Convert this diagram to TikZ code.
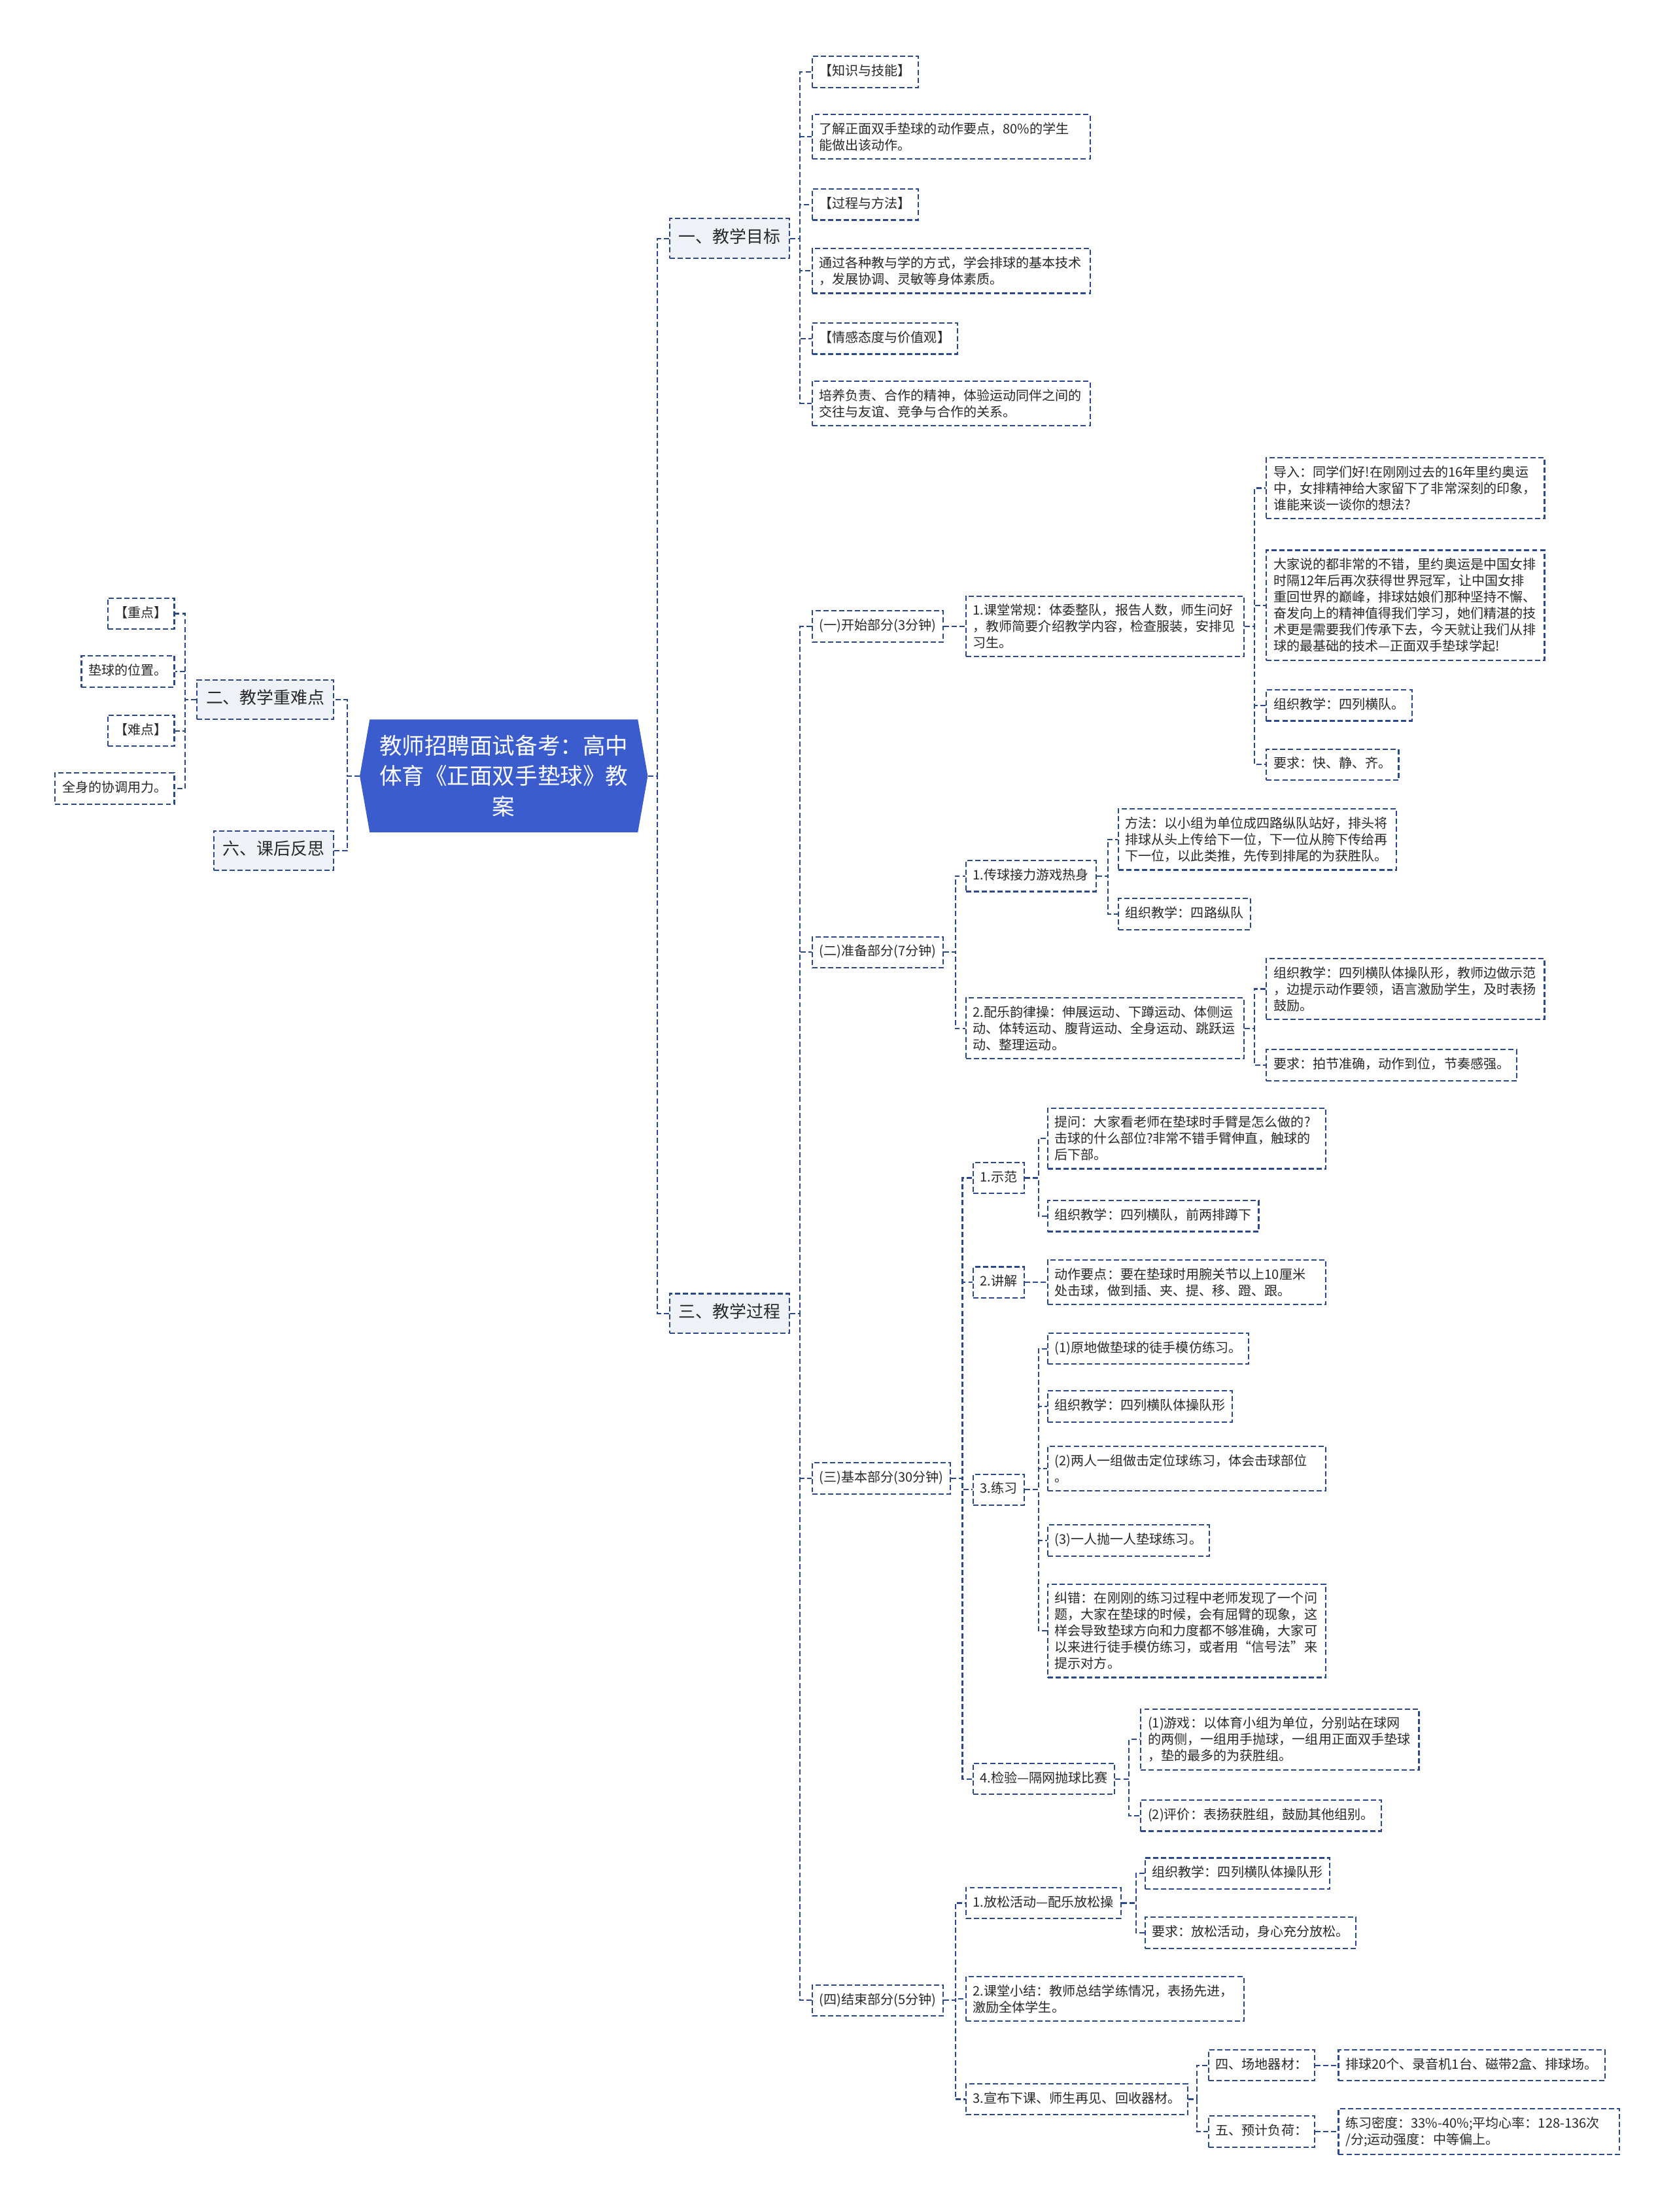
\documentclass[tikz,border=0pt]{standalone}
\usepackage{fontspec}
\newfontfamily\cjk{Noto Sans CJK SC}
\usetikzlibrary{calc,shapes.symbols}
\definecolor{lnc}{RGB}{44,72,140}
\definecolor{rootc}{RGB}{59,92,204}
\definecolor{lvf}{RGB}{238,241,246}
\definecolor{txt}{RGB}{40,40,40}
\tikzset{
  conn/.style={draw=lnc, line width=1pt, dash pattern=on 3.7pt off 1.9pt},
  box/.style={draw=lnc, line width=1pt, dash pattern=on 3.7pt off 1.9pt, fill=white, text=txt,
    font=\cjk\fontsize{9.3}{11.6}\selectfont, inner xsep=5pt, inner ysep=6pt},
  one/.style={box, text height=7.6pt, text depth=2.4pt},
  multi/.style={box, text width=187pt, align=left, inner ysep=5.6pt},
  lvl/.style={draw=lnc, line width=1pt, dash pattern=on 3.7pt off 1.9pt, fill=lvf, text=txt,
    font=\cjk\fontsize{12}{14}\selectfont, inner xsep=6.5pt, inner ysep=8pt, text height=9pt, text depth=3pt},
  rootn/.style={signal, signal to=west and east, signal pointer angle=160, fill=rootc, text=white,
    font=\cjk\fontsize{16}{21.5}\selectfont, align=center, text width=186pt, minimum height=80pt,
    inner xsep=2pt, inner ysep=4pt}
}
\newcommand\rlk[3][7]{\draw[conn] (#2.east) -| ($(#3.west)+(-#1,0)$) -- (#3.west);}
\newcommand\llk[3][7]{\draw[conn] (#2.west) -| ($(#3.east)+(#1,0)$) -- (#3.east);}
\begin{document}
\begin{tikzpicture}[x=1pt,y=-1pt]
\useasboundingbox (0,0) rectangle (1187,1568);
\fill[white] (0,0) rectangle (1187,1568);

% root
\node[rootn] (root) at (357,550) {教师招聘面试备考：高中\\体育《正面双手垫球》教\\案};

% left
\node[lvl, anchor=east] (L2) at (237,496) {二、教学重难点};
\node[lvl, anchor=east] (L6) at (237,603) {六、课后反思};
\node[one, anchor=east] (L2a) at (124,435) {【重点】};
\node[one, anchor=east] (L2b) at (124,476) {垫球的位置。};
\node[one, anchor=east] (L2c) at (124,518) {【难点】};
\node[one, anchor=east] (L2d) at (124,559) {全身的协调用力。};

% right level 1
\node[lvl, anchor=west] (R1) at (474,169) {一、教学目标};
\node[lvl, anchor=west] (R3) at (474,931) {三、教学过程};

% 一、教学目标
\node[one, anchor=west] (R1a) at (575,51) {【知识与技能】};
\node[multi, anchor=west] (R1b) at (575,97) {了解正面双手垫球的动作要点，80\%的学生\\能做出该动作。};
\node[one, anchor=west] (R1c) at (575,145) {【过程与方法】};
\node[multi, anchor=west] (R1d) at (575,192) {通过各种教与学的方式，学会排球的基本技术\\，发展协调、灵敏等身体素质。};
\node[one, anchor=west] (R1e) at (575,240) {【情感态度与价值观】};
\node[multi, anchor=west] (R1f) at (575,286) {培养负责、合作的精神，体验运动同伴之间的\\交往与友谊、竞争与合作的关系。};

% 三、教学过程
\node[one, anchor=west] (P1) at (575,444) {(一)开始部分(3分钟)};
\node[one, anchor=west] (P2) at (575,675) {(二)准备部分(7分钟)};
\node[one, anchor=west] (P3) at (575,1048) {(三)基本部分(30分钟)};
\node[one, anchor=west] (P4) at (575,1418) {(四)结束部分(5分钟)};

% (一)
\node[multi, anchor=west] (P1a) at (684,444) {1.课堂常规：体委整队，报告人数，师生问好\\，教师简要介绍教学内容，检查服装，安排见\\习生。};
\node[multi, anchor=west] (P1a1) at (897,346) {导入：同学们好!在刚刚过去的16年里约奥运\\中，女排精神给大家留下了非常深刻的印象，\\谁能来谈一谈你的想法?};
\node[multi, anchor=west] (P1a2) at (897,429) {大家说的都非常的不错，里约奥运是中国女排\\时隔12年后再次获得世界冠军，让中国女排\\重回世界的巅峰，排球姑娘们那种坚持不懈、\\奋发向上的精神值得我们学习，她们精湛的技\\术更是需要我们传承下去，今天就让我们从排\\球的最基础的技术—正面双手垫球学起!};
\node[one, anchor=west] (P1a3) at (897,500) {组织教学：四列横队。};
\node[one, anchor=west] (P1a4) at (897,542) {要求：快、静、齐。};

% (二)
\node[one, anchor=west] (P2a) at (684,621) {1.传球接力游戏热身};
\node[multi, anchor=west] (P2b) at (684,729) {2.配乐韵律操：伸展运动、下蹲运动、体侧运\\动、体转运动、腹背运动、全身运动、跳跃运\\动、整理运动。};
\node[multi, anchor=west] (P2a1) at (792,595) {方法：以小组为单位成四路纵队站好，排头将\\排球从头上传给下一位，下一位从胯下传给再\\下一位，以此类推，先传到排尾的为获胜队。};
\node[one, anchor=west] (P2a2) at (792,648) {组织教学：四路纵队};
\node[multi, anchor=west] (P2b1) at (897,701) {组织教学：四列横队体操队形，教师边做示范\\，边提示动作要领，语言激励学生，及时表扬\\鼓励。};
\node[one, anchor=west] (P2b2) at (897,755) {要求：拍节准确，动作到位，节奏感强。};

% (三)
\node[one, anchor=west] (P3a) at (689,835) {1.示范};
\node[one, anchor=west] (P3b) at (689,909) {2.讲解};
\node[one, anchor=west] (P3c) at (689,1056) {3.练习};
\node[one, anchor=west] (P3d) at (689,1261) {4.检验—隔网抛球比赛};
\node[multi, anchor=west] (P3a1) at (742,807) {提问：大家看老师在垫球时手臂是怎么做的?\\击球的什么部位?非常不错手臂伸直，触球的\\后下部。};
\node[one, anchor=west] (P3a2) at (742,862) {组织教学：四列横队，前两排蹲下};
\node[multi, anchor=west] (P3b1) at (742,909) {动作要点：要在垫球时用腕关节以上10厘米\\处击球，做到插、夹、提、移、蹬、跟。};
\node[one, anchor=west] (P3c1) at (742,956) {(1)原地做垫球的徒手模仿练习。};
\node[one, anchor=west] (P3c2) at (742,997) {组织教学：四列横队体操队形};
\node[multi, anchor=west] (P3c3) at (742,1041) {(2)两人一组做击定位球练习，体会击球部位\\。};
\node[one, anchor=west] (P3c4) at (742,1092) {(3)一人抛一人垫球练习。};
\node[multi, anchor=west] (P3c5) at (742,1156) {纠错：在刚刚的练习过程中老师发现了一个问\\题，大家在垫球的时候，会有屈臂的现象，这\\样会导致垫球方向和力度都不够准确，大家可\\以来进行徒手模仿练习，或者用“信号法”来\\提示对方。};
\node[multi, anchor=west] (P3d1) at (808,1233) {(1)游戏：以体育小组为单位，分别站在球网\\的两侧，一组用手抛球，一组用正面双手垫球\\，垫的最多的为获胜组。};
\node[one, anchor=west] (P3d2) at (808,1287) {(2)评价：表扬获胜组，鼓励其他组别。};

% (四)
\node[one, anchor=west] (P4a) at (684,1349) {1.放松活动—配乐放松操};
\node[multi, anchor=west] (P4b) at (684,1417) {2.课堂小结：教师总结学练情况，表扬先进，\\激励全体学生。};
\node[one, anchor=west] (P4c) at (684,1488) {3.宣布下课、师生再见、回收器材。};
\node[one, anchor=west] (P4a1) at (811,1328) {组织教学：四列横队体操队形};
\node[one, anchor=west] (P4a2) at (811,1370) {要求：放松活动，身心充分放松。};
\node[one, anchor=west] (P4c1) at (856,1464) {四、场地器材：};
\node[one, anchor=west] (P4c2) at (856,1511) {五、预计负荷：};
\node[one, anchor=west] (P4c1a) at (948,1464) {排球20个、录音机1台、磁带2盒、排球场。};
\node[multi, anchor=west, text width=189pt] (P4c2a) at (948,1511) {练习密度：33\%-40\%;平均心率：128-136次\\/分;运动强度：中等偏上。};

% connectors
\llk[9]{root}{L2} \llk[9]{root}{L6}
\llk{L2}{L2a} \llk{L2}{L2b} \llk{L2}{L2c} \llk{L2}{L2d}
\rlk[8]{root}{R1} \rlk[8]{root}{R3}
\rlk[8]{R1}{R1a} \rlk[8]{R1}{R1b} \rlk[8]{R1}{R1c} \rlk[8]{R1}{R1d} \rlk[8]{R1}{R1e} \rlk[8]{R1}{R1f}
\rlk[8]{R3}{P1} \rlk[8]{R3}{P2} \rlk[8]{R3}{P3} \rlk[8]{R3}{P4}
\rlk{P1}{P1a}
\rlk[8]{P1a}{P1a1} \rlk[8]{P1a}{P1a2} \rlk[8]{P1a}{P1a3} \rlk[8]{P1a}{P1a4}
\rlk{P2}{P2a} \rlk{P2}{P2b}
\rlk{P2a}{P2a1} \rlk{P2a}{P2a2}
\rlk[8]{P2b}{P2b1} \rlk[8]{P2b}{P2b2}
\rlk{P3}{P3a} \rlk{P3}{P3b} \rlk{P3}{P3c} \rlk{P3}{P3d}
\rlk[6]{P3a}{P3a1} \rlk[6]{P3a}{P3a2}
\rlk[6]{P3b}{P3b1}
\rlk[6]{P3c}{P3c1} \rlk[6]{P3c}{P3c2} \rlk[6]{P3c}{P3c3} \rlk[6]{P3c}{P3c4} \rlk[6]{P3c}{P3c5}
\rlk[8]{P3d}{P3d1} \rlk[8]{P3d}{P3d2}
\rlk{P4}{P4a} \rlk{P4}{P4b} \rlk{P4}{P4c}
\rlk[6]{P4a}{P4a1} \rlk[6]{P4a}{P4a2}
\rlk[8]{P4c}{P4c1} \rlk[8]{P4c}{P4c2}
\rlk[6]{P4c1}{P4c1a} \rlk[6]{P4c2}{P4c2a}
\end{tikzpicture}
\end{document}
